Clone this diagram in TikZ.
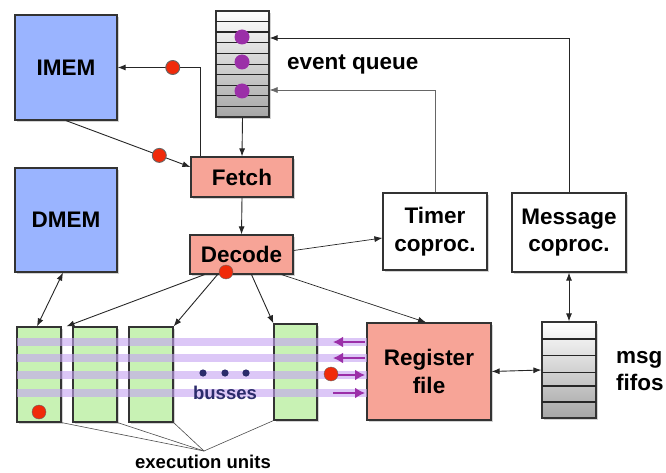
\documentclass[tikz,border=0pt]{standalone}
\usepackage{fontspec}
\setmainfont{Liberation Sans}
\usetikzlibrary{positioning,shadows,arrows.meta}

\definecolor{memblue}{HTML}{9AB4FF}
\definecolor{salmon}{HTML}{F7A497}
\definecolor{eugreen}{HTML}{C8F2B4}
\definecolor{busviolet}{HTML}{C4A2F2}
\definecolor{dotred}{HTML}{F02A0A}
\definecolor{dotpurple}{HTML}{9B2FA8}
\definecolor{inkblue}{HTML}{2B2B6B}

\tikzset{
  blk/.style={draw=black!80, line width=1.2pt, inner sep=0pt, align=center,
    drop shadow={opacity=0.35, shadow xshift=2pt, shadow yshift=-2pt},
    font=\bfseries\fontsize{22.5}{27.5}\selectfont},
  mem/.style={blk, fill=memblue, minimum width=102pt, minimum height=105pt},
  stage/.style={blk, fill=salmon},
  coproc/.style={blk, fill=white},
  eu/.style={blk, fill=eugreen, minimum width=44pt, minimum height=95pt},
  fifo/.style={blk, top color=white, bottom color=black!35},
  reddot/.style={circle, draw=black!60, fill=dotred, minimum size=14pt, inner sep=0pt},
  evdot/.style={circle, fill=dotpurple, minimum size=15pt, inner sep=0pt},
  wire/.style={draw=black!85, line width=0.9pt},
  arr/.style={wire, -{Latex[length=8pt,width=6pt]}},
  darr/.style={wire, {Latex[length=8pt,width=6pt]}-{Latex[length=8pt,width=6pt]}},
  bus/.style={busviolet, line width=7.5pt, opacity=0.6},
  busarr/.style={dotpurple, line width=2.2pt, -{Latex[length=10pt,width=11pt]}},
  lbl/.style={font=\bfseries\fontsize{22.5}{27.5}\selectfont, inner sep=0pt},
  smalllbl/.style={font=\bfseries\fontsize{18.5}{22}\selectfont, inner sep=0pt}
}

\begin{document}
\begin{tikzpicture}[x=1pt, y=-1pt]
\useasboundingbox (0,0) rectangle (666,473);

% memories
\node[mem] (imem) at (66,67.5) {IMEM};
\node[mem, minimum height=104pt] (dmem) at (66,220) {DMEM};

% event queue
\node[fifo, minimum width=53pt, minimum height=106pt] (queue) at (242.5,64) {};
\foreach \k in {1,...,9}{
  \pgfmathsetmacro\lw{mod(\k,2)==0 ? 1.4 : 0.6}
  \draw[line width=\lw pt, black!85] (216,11+10.6*\k) -- (269,11+10.6*\k);
}
\node[evdot] (ev1) at (242,37) {};
\node[evdot] (ev2) at (242,62) {};
\node[evdot] (ev3) at (242,91) {};
\node[lbl, anchor=west] (qlabel) at (287,64) {event queue};

% pipeline
\node[stage, minimum width=102pt, minimum height=40pt] (fetch) at (242,177) {Fetch};
\node[stage, minimum width=103pt, minimum height=39pt] (decode) at (241.5,254.5) {Decode};
\node[coproc, minimum width=104pt, minimum height=77pt] (timer) at (435,231.5) {Timer\\coproc.};
\node[coproc, minimum width=114pt, minimum height=79pt] (msg) at (569,232.5) {Message\\coproc.};
\node[stage, minimum width=124pt, minimum height=97pt] (regfile) at (429,371.5) {Register\\file};

% msg fifos
\node[fifo, minimum width=54pt, minimum height=96pt] (fifos) at (569,370) {};
\foreach \yy/\lw in {339/1.4, 355/0.6, 372/0.6, 386/1.4, 402/1.4}
  \draw[line width=\lw pt, black!85] (542,\yy) -- (596,\yy);
\node[lbl, anchor=west, align=left] (flabel) at (616,371) {msg\\fifos};

% execution units
\node[eu] (u1) at (39,374.5) {};
\node[eu] (u2) at (95,374.5) {};
\node[eu] (u3) at (151,374.5) {};
\node[eu, minimum width=43pt, minimum height=96pt] (u4) at (295.5,372) {};

% busses
\foreach \yy in {342,358,375,393}
  \draw[bus] (17,\yy) -- (367,\yy);
\draw[busarr] (365,342) -- (333,342);
\draw[busarr] (365,358) -- (333,358);
\draw[busarr] (333,375) -- (365,375);
\draw[busarr] (333,393) -- (365,393);
\foreach \xx in {203,225,246}
  \fill[inkblue] (\xx,373) circle (3.6pt);
\node[smalllbl, text=inkblue] (blabel) at (225,393) {busses};

% connectors
\draw[arr] (queue.south) -- (fetch.north);
\draw[arr] ([xshift=10pt]fetch.north west) |- (imem.east)
  node[reddot, pos=0.667] (rd1) {};
\draw[arr] (imem.south) -- ([yshift=10pt]fetch.west)
  node[reddot, pos=0.75] (rd2) {};
\draw[arr] (fetch.south) -- (decode.north);
\draw[arr, draw=black!60, line width=0.7pt] (timer.north) |- ([yshift=-26pt]queue.east);
\draw[arr] (msg.north) |- ([yshift=26pt]queue.east);
\draw[arr, line width=0.7pt] ([yshift=4pt]decode.east) -- ([yshift=-6.5pt]timer.west);
\draw[arr, line width=0.7pt] ([xshift=-12pt]decode.south east) -- ([xshift=-3pt]regfile.north);
\draw[arr] ([xshift=10pt]decode.south) -- (u4.north west);
\draw[arr] ([xshift=-24pt]decode.south) -- (u3.north east);
\draw[arr] ([xshift=-37pt]decode.south) -- ([xshift=-6pt]u2.north west);
\draw[darr] ([xshift=-3pt]dmem.south) -- ([xshift=-2pt]u1.north);
\draw[darr] (msg.south) -- (fifos.north);
\draw[darr] (regfile.east) -- (fifos.west);

% red dots
\node[reddot] (rd3) at (226,272) {};
\node[reddot] (rd4) at (39,412) {};
\node[reddot] (rd5) at (331,374) {};

% execution units label
\node[smalllbl] (eulabel) at (203,462) {execution units};
\coordinate (eujoin) at (204,451);
\foreach \u/\c in {u1/south east, u2/south east, u3/south east, u4/south west}
  \draw[black!70, line width=0.6pt] (eujoin) -- (\u.\c);
\end{tikzpicture}
\end{document}
